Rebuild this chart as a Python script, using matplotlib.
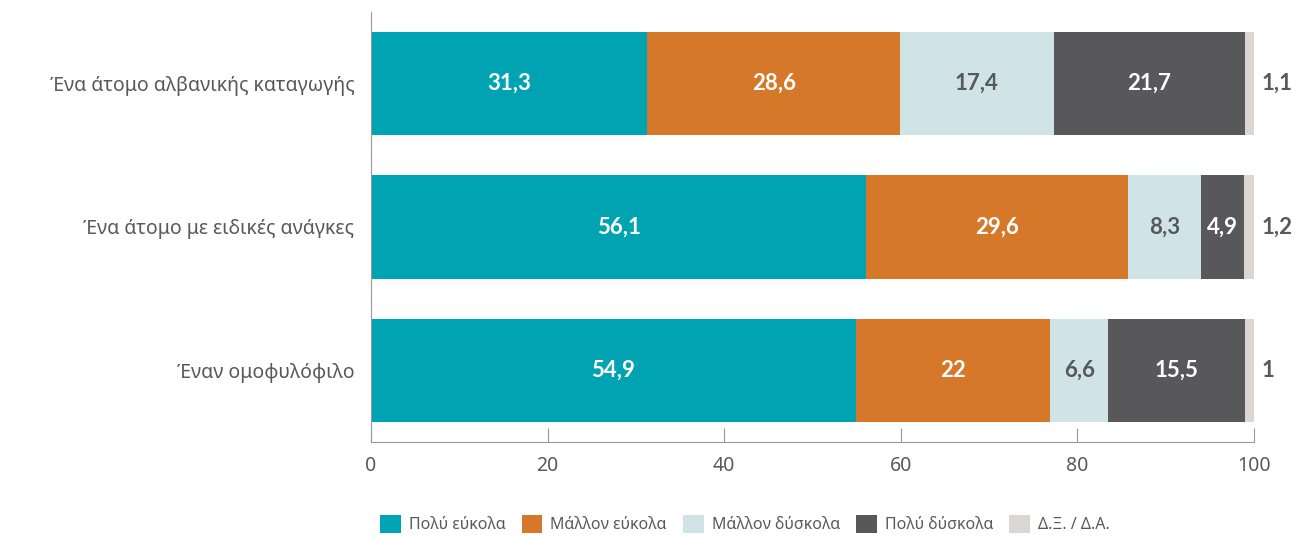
import numpy as np
import matplotlib.pyplot as plt

plt.rcParams['font.family'] = ['Noto Sans', 'DejaVu Sans']

categories = ['Ένα άτομο αλβανικής καταγωγής', 'Ένα άτομο με ειδικές ανάγκες', 'Έναν ομοφυλόφιλο']
series_names = ['Πολύ εύκολα', 'Μάλλον εύκολα', 'Μάλλον δύσκολα', 'Πολύ δύσκολα', 'Δ.Ξ. / Δ.Α.']
very_easy = [31.3, 56.1, 54.9]
rather_easy = [28.6, 29.6, 22]
rather_hard = [17.4, 8.3, 6.6]
very_hard = [21.7, 4.9, 15.5]
dk_na = [1.1, 1.2, 1]
value_labels = [
    ['31,3', '56,1', '54,9'],
    ['28,6', '29,6', '22'],
    ['17,4', '8,3', '6,6'],
    ['21,7', '4,9', '15,5'],
    ['1,1', '1,2', '1'],
]

colors = ['#00A3B1', '#D6782A', '#D0E4E7', '#58585A', '#DBD6D2']
text_colors = ['white', 'white', '#58585A', 'white', '#58585A']
grey = '#595959'

series = [very_easy, rather_easy, rather_hard, very_hard, dk_na]

fig = plt.figure(figsize=(13, 5.36), dpi=100)
ax = fig.add_axes([0.2854, 0.1754, 0.6792, 0.8022])

y = np.arange(len(categories))
left = np.zeros(len(categories))
handles = []
for i, vals in enumerate(series):
    vals = np.array(vals, dtype=float)
    b = ax.barh(y, vals, left=left, height=0.72, color=colors[i], label=series_names[i])
    handles.append(b)
    for j in range(len(categories)):
        if i == 4:
            ax.text(left[j] + vals[j] + 0.8, y[j], value_labels[i][j], ha='left', va='center',
                    fontsize=16, fontweight='bold', color=grey, family=['Lato', 'DejaVu Sans'])
        else:
            ax.text(left[j] + vals[j] / 2, y[j], value_labels[i][j], ha='center', va='center',
                    fontsize=16, fontweight='bold', color=text_colors[i],
                    family=['Lato', 'DejaVu Sans'])
    left += vals

ax.set_ylim(2.5, -0.5)
ax.set_xlim(0, 100)
ax.set_yticks(y)
ax.set_yticklabels(categories, fontsize=14, color=grey)
ax.tick_params(axis='y', length=0, pad=12)
ax.set_xticks([0, 20, 40, 60, 80, 100])
ax.tick_params(axis='x', direction='in', length=10, color='#999999', labelsize=14,
               labelcolor=grey, pad=10)
for s in ['top', 'right']:
    ax.spines[s].set_visible(False)
for s in ['left', 'bottom']:
    ax.spines[s].set_color('#999999')

fig.legend(handles=handles, labels=series_names, loc='center', bbox_to_anchor=(0.573, 0.022),
           ncol=5, frameon=False, fontsize=11.5, handlelength=1.3, handleheight=1.3,
           handletextpad=0.5, columnspacing=1.0, labelcolor=grey)

fig.savefig('out.png', dpi=100)
